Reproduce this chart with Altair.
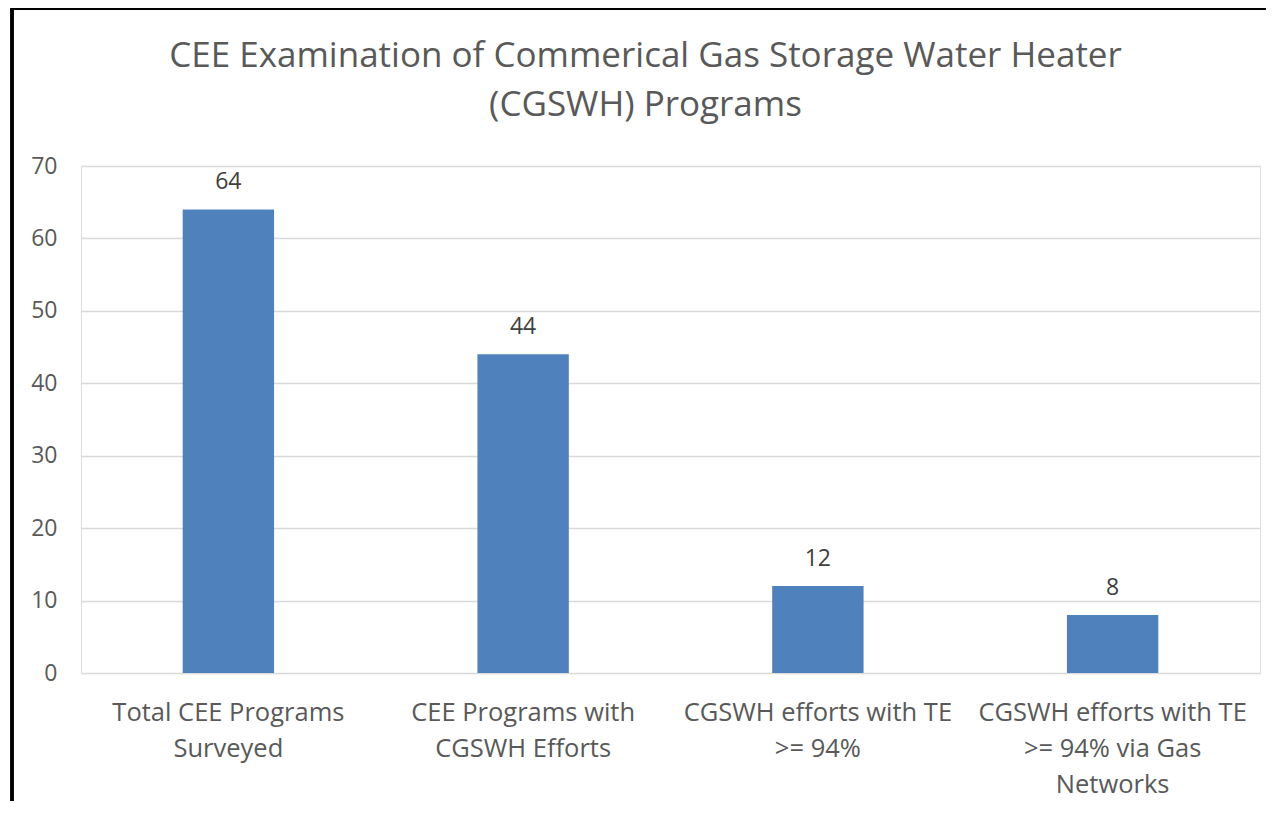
import altair as alt
import pandas as pd

categories = [
    "Total CEE Programs|Surveyed",
    "CEE Programs with|CGSWH Efforts",
    "CGSWH efforts with TE|>= 94%",
    "CGSWH efforts with TE|>= 94% via Gas|Networks",
]
values = [64, 44, 12, 8]
title_lines = ["CEE Examination of Commerical Gas Storage Water Heater", "(CGSWH) Programs"]

df = pd.DataFrame({"category": categories, "value": values})

FONT = "Open Sans"
GRAY = "#595959"

base = alt.Chart(df)

bars = base.mark_bar(color="#4F81BD").encode(
    x=alt.X(
        "category:N",
        sort=categories,
        scale=alt.Scale(paddingInner=0.69, paddingOuter=0.345),
        axis=alt.Axis(
            title=None,
            labelAngle=0,
            labelExpr="split(datum.label, '|')",
            labelFontSize=25.5,
            labelColor=GRAY,
            labelFont=FONT,
            labelLineHeight=36,
            labelPadding=27,
            ticks=False,
            domain=False,
            labelLimit=400,
        ),
    ),
    y=alt.Y(
        "value:Q",
        scale=alt.Scale(domain=[0, 70]),
        axis=alt.Axis(
            title=None,
            values=[0, 10, 20, 30, 40, 50, 60, 70],
            labelFontSize=23,
            labelColor=GRAY,
            labelFont=FONT,
            labelPadding=24,
            ticks=False,
            domain=False,
            gridColor="#D9D9D9",
            gridWidth=1.3,
        ),
    ),
)

labels = base.mark_text(
    baseline="alphabetic", dy=-20, fontSize=23, color="#404040", font=FONT
).encode(
    x=alt.X("category:N", sort=categories),
    y="value:Q",
    text="value:Q",
)

left_border = base.mark_rule(color="black", strokeWidth=3).encode(
    x=alt.value(-69), y=alt.value(-160), y2=alt.value(700)
)
top_border = base.mark_rule(color="black", strokeWidth=2).encode(
    x=alt.value(-70), x2=alt.value(1200), y=alt.value(-157)
)

chart = (
    alt.layer(bars, labels, left_border, top_border)
    .properties(
        width=1179,
        height=507,
        autosize=alt.AutoSizeParams(type="none"),
        padding={"left": 73, "top": 158, "right": 6, "bottom": 128},
        title=alt.TitleParams(
            text=title_lines,
            fontSize=35,
            font=FONT,
            fontWeight="normal",
            color=GRAY,
            anchor="middle",
            lineHeight=49,
            offset=-118,
            dx=-25,
        ),
    )
    .configure_view(stroke=None)
    .configure(background="white")
)

chart.save("out.html", embed_options={"renderer": "svg", "actions": False})
